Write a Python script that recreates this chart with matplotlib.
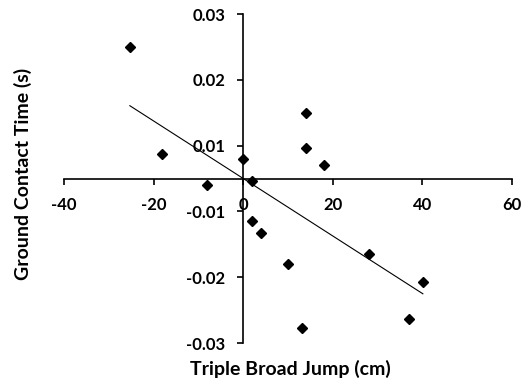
import numpy as np
import matplotlib
matplotlib.use("Agg")
import matplotlib.pyplot as plt

# data
jump_cm = [-25.3, -18.1, -8.0, 0.0, 2.0, 14.0, 14.0, 18.0, 1.9, 4.0, 9.9, 13.1, 28.1, 40.1, 37.1]
contact_s = [0.0200, 0.0037, -0.0010, 0.0029, -0.0004, 0.0100, 0.0046, 0.0020,
             -0.0064, -0.0083, -0.0130, -0.0227, -0.0114, -0.0157, -0.0214]

x_ticks = [-40, -20, 0, 20, 40, 60]
x_ticklabels = ["-40", "-20", "0", "20", "40", "60"]
y_ticks = [-0.025, -0.015, -0.005, 0.005, 0.015, 0.025]
y_ticklabels = ["-0.03", "-0.02", "-0.01", "0.01", "0.02", "0.03"]

plt.rcParams['font.family'] = ['Lato', 'DejaVu Sans']
plt.rcParams['font.weight'] = 'bold'

fig = plt.figure(figsize=(5.25, 3.81), dpi=100)
ax = fig.add_axes([64/525, 1-343/381, (512-64)/525, (343-14)/381])

ax.plot(jump_cm, contact_s, linestyle="none", marker="D", markersize=5.3, color="black")

# linear trendline over the data range
slope, icpt = np.polyfit(jump_cm, contact_s, 1)
xl = np.array([min(jump_cm), max(jump_cm)])
ax.plot(xl, slope*xl + icpt, color="black", linewidth=0.8)

ax.set_xlim(-40, 60)
ax.set_ylim(-0.025, 0.025)

# axes cross at the origin
ax.spines['left'].set_position(('data', 0))
ax.spines['bottom'].set_position(('data', 0))
ax.spines['top'].set_visible(False)
ax.spines['right'].set_visible(False)
for s in ('left', 'bottom'):
    ax.spines[s].set_linewidth(1.2)

ax.set_xticks(x_ticks)
ax.set_xticklabels(x_ticklabels, fontsize=12, fontweight='bold')
ax.set_yticks(y_ticks)
ax.set_yticklabels(y_ticklabels, fontsize=12, fontweight='bold')
ax.tick_params(axis='both', direction='out', length=4, width=1.2)
ax.tick_params(axis='x', pad=9)
ax.tick_params(axis='y', pad=9)

fig.text(290/525, 1-369/381, "Triple Broad Jump (cm)", ha='center', va='center',
         fontsize=14, fontweight='bold')
fig.text(23/525, 1-174/381, "Ground Contact Time (s)", ha='center', va='center',
         rotation=90, fontsize=14, fontweight='bold')

fig.savefig("out.png", dpi=100)
